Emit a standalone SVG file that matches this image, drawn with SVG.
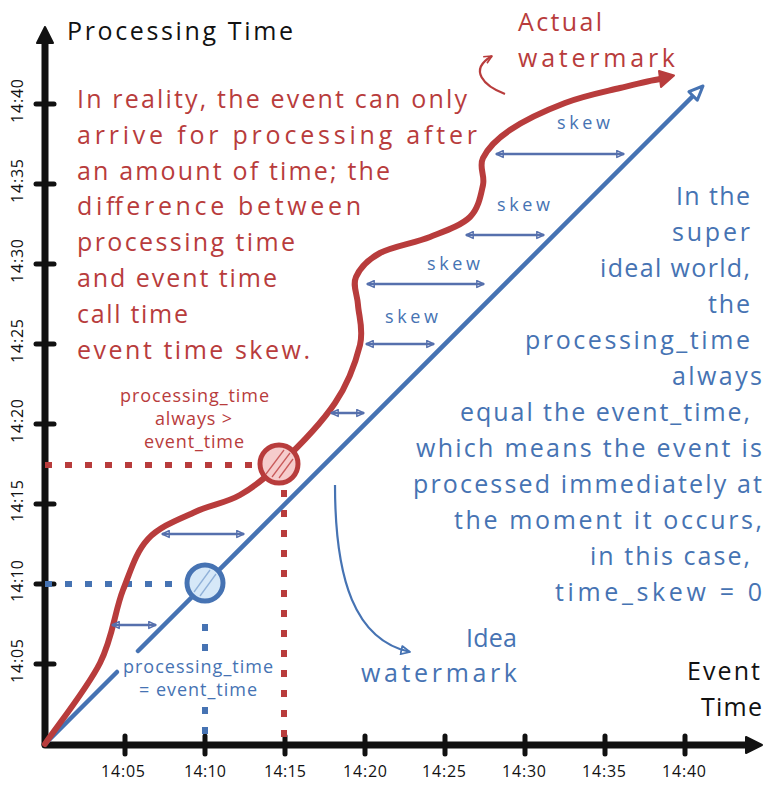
<svg xmlns="http://www.w3.org/2000/svg" width="778" height="785" viewBox="0 0 778 785">
<style>
  .t { font-family: "Open Sans", "Liberation Sans", Arial, sans-serif; }
  .red { fill: #b83c3c; }
  .blue { fill: #4673b3; }
  .blk { fill: #111111; }
  .big { font-size: 25px; }
  .sm { font-size: 18px; }
  .tick { font-size: 16px; fill: #111111; }
  .axis { stroke: #111111; stroke-width: 7; fill: none; stroke-linecap: round; }
  .tk { stroke: #111111; stroke-width: 5; stroke-linecap: round; }
  .skew { stroke: #5670ad; stroke-width: 2.5; fill: none; marker-start: url(#bh); marker-end: url(#bh); }
  .dotR { stroke: #b83c3c; stroke-width: 6; stroke-dasharray: 7 13; fill: none; }
  .dotB { stroke: #4673b3; stroke-width: 6; stroke-dasharray: 7 13; fill: none; }
</style>
<defs>
  <marker id="bh" viewBox="0 0 10 10" refX="9" refY="5" markerWidth="9" markerHeight="9" markerUnits="userSpaceOnUse" orient="auto-start-reverse">
    <path d="M1,1.2 L9,5 L1,8.8 Z" fill="none" stroke="#5670ad" stroke-width="1.6" stroke-linejoin="round"/>
  </marker>
  <marker id="bh2" viewBox="0 0 10 10" refX="9" refY="5" markerWidth="11" markerHeight="11" markerUnits="userSpaceOnUse" orient="auto">
    <path d="M1,1.2 L9,5 L1,8.8 Z" fill="none" stroke="#4673b3" stroke-width="1.6" stroke-linejoin="round"/>
  </marker>
  <marker id="rh" viewBox="0 0 10 10" refX="9" refY="5" markerWidth="10" markerHeight="10" markerUnits="userSpaceOnUse" orient="auto">
    <path d="M1,1.2 L9,5 L1,8.8" fill="none" stroke="#b83c3c" stroke-width="1.6" stroke-linejoin="round"/>
  </marker>
</defs>
<rect x="0" y="0" width="778" height="785" fill="#ffffff"/>

<!-- axes -->
<g id="axes">
  <line class="axis" x1="45" y1="744" x2="45" y2="40"/>
  <polygon points="45,27 37,43 53,43" fill="#111111" stroke="#111111" stroke-width="2" stroke-linejoin="round"/>
  <line class="axis" x1="45" y1="745" x2="748" y2="745"/>
  <polygon points="762,745 746,737 746,753" fill="#111111" stroke="#111111" stroke-width="2" stroke-linejoin="round"/>
  <g id="yticks">
    <line class="tk" x1="36" y1="104" x2="54" y2="104"/>
    <line class="tk" x1="36" y1="184" x2="54" y2="184"/>
    <line class="tk" x1="36" y1="264" x2="54" y2="264"/>
    <line class="tk" x1="36" y1="344" x2="54" y2="344"/>
    <line class="tk" x1="36" y1="424" x2="54" y2="424"/>
    <line class="tk" x1="36" y1="504" x2="54" y2="504"/>
    <line class="tk" x1="36" y1="584" x2="54" y2="584"/>
    <line class="tk" x1="36" y1="664" x2="54" y2="664"/>
  </g>
  <g id="xticks">
    <line class="tk" x1="125" y1="736" x2="125" y2="754"/>
    <line class="tk" x1="205" y1="736" x2="205" y2="754"/>
    <line class="tk" x1="285" y1="736" x2="285" y2="754"/>
    <line class="tk" x1="365" y1="736" x2="365" y2="754"/>
    <line class="tk" x1="445" y1="736" x2="445" y2="754"/>
    <line class="tk" x1="525" y1="736" x2="525" y2="754"/>
    <line class="tk" x1="605" y1="736" x2="605" y2="754"/>
    <line class="tk" x1="685" y1="736" x2="685" y2="754"/>
  </g>
  <g id="ylabels" class="t tick" text-anchor="middle">
    <text transform="translate(23,101) rotate(-90)" textLength="44">14:40</text>
    <text transform="translate(23,181) rotate(-90)" textLength="44">14:35</text>
    <text transform="translate(23,261) rotate(-90)" textLength="44">14:30</text>
    <text transform="translate(23,341) rotate(-90)" textLength="44">14:25</text>
    <text transform="translate(23,421) rotate(-90)" textLength="44">14:20</text>
    <text transform="translate(23,501) rotate(-90)" textLength="42">14:15</text>
    <text transform="translate(23,581) rotate(-90)" textLength="42">14:10</text>
    <text transform="translate(23,661) rotate(-90)" textLength="44">14:05</text>
  </g>
  <g id="xlabels" class="t tick">
    <text x="101" y="777" textLength="44">14:05</text>
    <text x="184" y="777" textLength="42">14:10</text>
    <text x="264" y="777" textLength="42">14:15</text>
    <text x="343" y="777" textLength="44">14:20</text>
    <text x="422" y="777" textLength="44">14:25</text>
    <text x="502" y="777" textLength="44">14:30</text>
    <text x="582" y="777" textLength="44">14:35</text>
    <text x="662" y="777" textLength="44">14:40</text>
  </g>
  <text id="ylabel" class="t big blk" x="67" y="40" textLength="226">Processing Time</text>
  <g id="xlabel" class="t big blk">
    <text x="687" y="680" textLength="73">Event</text>
    <text x="701" y="716" textLength="61">Time</text>
  </g>
</g>

<!-- dotted guide lines -->
<g id="guides">
  <line class="dotR" x1="45" y1="465" x2="262" y2="465"/>
  <line class="dotR" x1="284" y1="490" x2="284" y2="744"/>
  <line class="dotB" x1="45" y1="584" x2="180" y2="584"/>
  <line class="dotB" x1="205" y1="624" x2="205" y2="656"/>
  <line class="dotB" x1="205" y1="707" x2="205" y2="744" stroke-dasharray="5 10"/>
</g>

<!-- connectors -->
<g id="connectors">
  <!-- ideal watermark line -->
  <g id="ideal-line" stroke="#4673b3" stroke-width="4.5" fill="none" stroke-linecap="round">
    <line x1="45" y1="744" x2="117" y2="672"/>
    <line x1="138" y1="651" x2="693" y2="96"/>
    <polygon points="703,86 697.3,100.1 688.9,91.7" fill="#ffffff" stroke-width="3" stroke-linejoin="round"/>
  </g>
  <!-- actual watermark curve -->
  <g id="actual-curve">
    <path d="M45,744 C54,730 87,689 100,663 C113,637 114.7,611 123,590 C131.3,569 136,552 148,539 C160,526 180,519 195,512 C210,505 226,503 240,495 C254,487 263,480 279,465 C295,450 321.5,423 335,403 C348.5,383 356,361 360,345 C363.8,328.7 358.7,316 358,305 C357.3,293.7 352.3,285.7 356,277 C359.7,268.3 367.7,259.7 380,253 C392.3,246.3 415,243 430,237 C445,231 461,225.7 470,217 C478.8,208.3 480.8,194.8 483,185 C485.2,175.2 478.5,167.2 483,158 C487.5,148.8 496.3,139.2 510,130 C523.7,120.8 546.7,110 565,103 C583.3,96 602.8,92.2 620,88 C637.2,83.8 650,80.5 660,79" fill="none" stroke="#b83c3c" stroke-width="6" stroke-linecap="round"/>
    <polygon points="674,75.5 659,71 661,87" fill="#b83c3c" stroke="#b83c3c" stroke-width="2" stroke-linejoin="round"/>
  </g>
  <!-- skew arrows -->
  <g id="skew-arrows">
    <line class="skew" x1="112" y1="625" x2="156" y2="625"/>
    <line class="skew" x1="162" y1="534" x2="244" y2="534"/>
    <line class="skew" x1="331" y1="413" x2="364" y2="413"/>
    <line class="skew" x1="366" y1="344" x2="434" y2="344"/>
    <line class="skew" x1="367" y1="284" x2="484" y2="284"/>
    <line class="skew" x1="466" y1="235" x2="544" y2="235"/>
    <line class="skew" x1="496" y1="154" x2="624" y2="154"/>
  </g>
  <!-- annotation arrows -->
  <path id="ideal-pointer" d="M335,485 C335,580 355,640 410,652" fill="none" stroke="#4673b3" stroke-width="2.2" marker-end="url(#bh2)"/>
  <path id="actual-pointer" d="M505,94 C484,86 468,70 492,56" fill="none" stroke="#b83c3c" stroke-width="2.2" marker-end="url(#rh)"/>
</g>

<!-- points -->
<g id="point-actual">
  <circle cx="279" cy="464" r="19" fill="#f6cccc" stroke="#b83c3c" stroke-width="5"/>
  <g stroke="#c95a5a" stroke-width="1.3">
    <line x1="266" y1="474" x2="284" y2="450"/>
    <line x1="272" y1="477" x2="290" y2="453"/>
    <line x1="279" y1="478" x2="293" y2="459"/>
  </g>
</g>
<g id="point-ideal">
  <circle cx="205" cy="583" r="18" fill="#d6e8f8" stroke="#4673b3" stroke-width="5"/>
  <g stroke="#8fb0d8" stroke-width="1.3">
    <line x1="194" y1="592" x2="210" y2="570"/>
    <line x1="200" y1="596" x2="216" y2="574"/>
  </g>
</g>

<!-- texts -->
<g id="reality-note" class="t big red">
  <text x="77" y="108" textLength="390">In reality, the event can only</text>
  <text x="77" y="144" textLength="400">arrive for processing after</text>
  <text x="77" y="180" textLength="313">an amount of time; the</text>
  <text x="77" y="215" textLength="284">difference between</text>
  <text x="77" y="251" textLength="218">processing time</text>
  <text x="77" y="287" textLength="200">and event time</text>
  <text x="77" y="323" textLength="111">call time</text>
  <text x="77" y="359" textLength="233">event time skew.</text>
</g>
<g id="actual-label" class="t big red">
  <text x="518" y="31" textLength="84">Actual</text>
  <text x="518" y="67" textLength="157">watermark</text>
</g>
<g id="ideal-note" class="t big blue">
  <text x="676" y="205" textLength="74">In the</text>
  <text x="672" y="241" textLength="78">super</text>
  <text x="600" y="277" textLength="150">ideal world,</text>
  <text x="708" y="313" textLength="42">the</text>
  <text x="525" y="349" textLength="225">processing_time</text>
  <text x="672" y="385" textLength="90">always</text>
  <text x="460" y="421" textLength="290">equal the event_time,</text>
  <text x="416" y="457" textLength="346">which means the event is</text>
  <text x="413" y="493" textLength="349">processed immediately at</text>
  <text x="454" y="529" textLength="308">the moment it occurs,</text>
  <text x="590" y="565" textLength="160">in this case,</text>
  <text x="555" y="601" textLength="207">time_skew = 0</text>
</g>
<g id="ideal-label" class="t big blue">
  <text x="466" y="647" textLength="51">Idea</text>
  <text x="361" y="682" textLength="156">watermark</text>
</g>
<g id="actual-point-label" class="t sm red">
  <text x="120" y="402" textLength="149">processing_time</text>
  <text x="155" y="425" textLength="77">always &gt;</text>
  <text x="144" y="448" textLength="100">event_time</text>
</g>
<g id="ideal-point-label" class="t sm blue">
  <text x="123" y="673" textLength="150">processing_time</text>
  <text x="139" y="696" textLength="118">= event_time</text>
</g>
<g id="skew-labels" class="t sm blue">
  <text x="557" y="129" textLength="53">skew</text>
  <text x="497" y="211" textLength="53">skew</text>
  <text x="427" y="270" textLength="53">skew</text>
  <text x="385" y="323" textLength="53">skew</text>
</g>
</svg>
